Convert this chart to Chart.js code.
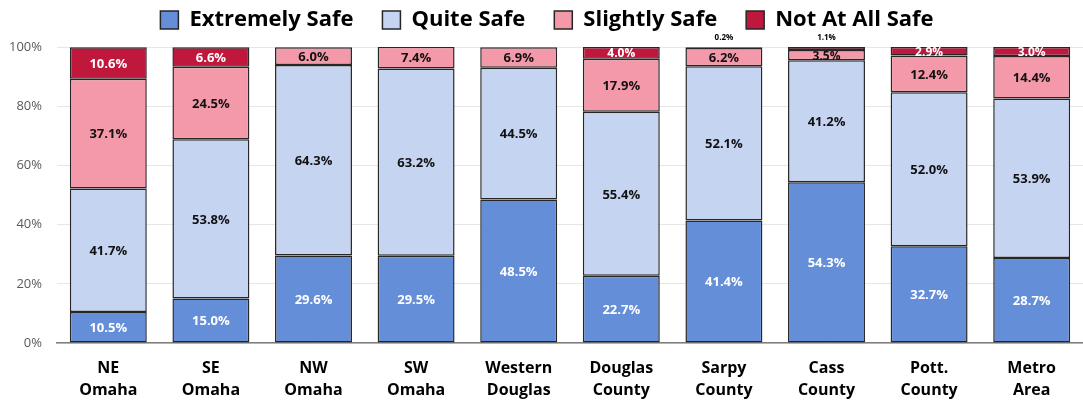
<!DOCTYPE html>
<html lang="en">
<head>
    <meta charset="UTF-8" />
    <title>Perceived Safety by Area</title>
    <script src="https://cdn.jsdelivr.net/npm/chart.js"></script>
    <style>
        html, body { margin: 0; padding: 0; background: #ffffff; }
        .chart-box { width: 1083px; height: 400px; position: relative; }
    </style>
</head>
<body>
    <div class="chart-box">
        <canvas id="safetyChart"></canvas>
    </div>

    <script>
        // data
        const areas = [
            ["NE", "Omaha"], ["SE", "Omaha"], ["NW", "Omaha"], ["SW", "Omaha"],
            ["Western", "Douglas"], ["Douglas", "County"], ["Sarpy", "County"],
            ["Cass", "County"], ["Pott.", "County"], ["Metro", "Area"]
        ];
        const extremelySafe = [10.5, 15.0, 29.6, 29.5, 48.5, 22.7, 41.4, 54.3, 32.7, 28.7];
        const quiteSafe     = [41.7, 53.8, 64.3, 63.2, 44.5, 55.4, 52.1, 41.2, 52.0, 53.9];
        const slightlySafe  = [37.1, 24.5, 6.0, 7.4, 6.9, 17.9, 6.2, 3.5, 12.4, 14.4];
        const notSafe       = [10.6, 6.6, 0, 0, 0, 4.0, 0.2, 1.1, 2.9, 3.0];
        const yTicks = [0, 20, 40, 60, 80, 100];

        const FONT = "'Open Sans', Lato, sans-serif";

        // draws the % value on each segment
        const valueLabels = {
            id: "valueLabels",
            afterDatasetsDraw(chart) {
                const ctx = chart.ctx;
                ctx.save();
                ctx.textAlign = "center";
                ctx.textBaseline = "middle";
                chart.data.datasets.forEach((ds, di) => {
                    const meta = chart.getDatasetMeta(di);
                    meta.data.forEach((bar, i) => {
                        const v = ds.data[i];
                        if (!v) return;
                        const p = bar.getProps(["x", "y", "base"], true);
                        const txt = v.toFixed(1) + "%";
                        if (v < 2) {
                            ctx.font = "bold 8px " + FONT;
                            ctx.fillStyle = "#000000";
                            ctx.fillText(txt, p.x, chart.chartArea.top - 9);
                        } else {
                            ctx.font = "bold " + (v < 5 ? 12 : 13) + "px " + FONT;
                            ctx.fillStyle = (di === 0 || di === 3) ? "#ffffff" : "#111111";
                            ctx.fillText(txt, p.x, (p.y + p.base) / 2 + 1);
                        }
                    });
                });
                ctx.restore();
            }
        };

        // fixed legend height so the plot starts where it does in the picture
        const legendFit = {
            id: "legendFit",
            beforeInit(chart) {
                const legend = chart.legend;
                const origFit = legend.fit;
                legend.fit = function () {
                    origFit.call(this);
                    this.height = 67;
                };
            }
        };

        const ctx = document.getElementById("safetyChart").getContext("2d");

        const chart = new Chart(ctx, {
            type: "bar",
            data: {
                labels: areas,
                datasets: [
                    { label: "Extremely Safe", data: extremelySafe, backgroundColor: "#658ed9" },
                    { label: "Quite Safe", data: quiteSafe, backgroundColor: "#c5d4f0" },
                    { label: "Slightly Safe", data: slightlySafe, backgroundColor: "#f499aa" },
                    { label: "Not At All Safe", data: notSafe, backgroundColor: "#c0183c" }
                ].map(ds => Object.assign(ds, {
                    borderColor: "#262626",
                    borderWidth: 1.5,
                    borderSkipped: false,
                    barPercentage: 0.75,
                    categoryPercentage: 1.0
                }))
            },
            options: {
                responsive: true,
                maintainAspectRatio: false,
                animation: false,
                layout: { padding: { top: -20, right: -11, left: 0, bottom: 0 } },
                plugins: {
                    tooltip: { enabled: false },
                    legend: {
                        position: "top",
                        labels: {
                            color: "#000000",
                            font: { family: FONT, size: 22, weight: "bold" },
                            boxWidth: 18,
                            boxHeight: 18,
                            padding: 29
                        }
                    }
                },
                scales: {
                    x: {
                        stacked: true,
                        grid: { display: false, drawTicks: false },
                        border: { display: true, color: "#7f7f7f", width: 1.5 },
                        ticks: {
                            color: "#000000",
                            padding: 14,
                            maxRotation: 0,
                            font: { family: FONT, size: 16, weight: "bold", lineHeight: 1.4 }
                        },
                        afterFit(scale) { scale.height = 57; }
                    },
                    y: {
                        stacked: true,
                        min: 0,
                        max: 100,
                        afterBuildTicks(scale) {
                            scale.ticks = yTicks.map(v => ({ value: v }));
                        },
                        grid: { color: "#e6e6e6", lineWidth: 1, drawTicks: false },
                        border: { display: false },
                        ticks: {
                            color: "#595959",
                            padding: 15,
                            font: { family: FONT, size: 13 },
                            callback: v => v + "%"
                        },
                        afterFit(scale) { scale.width = 57; }
                    }
                }
            },
            plugins: [valueLabels, legendFit]
        });
    </script>
</body>
</html>
